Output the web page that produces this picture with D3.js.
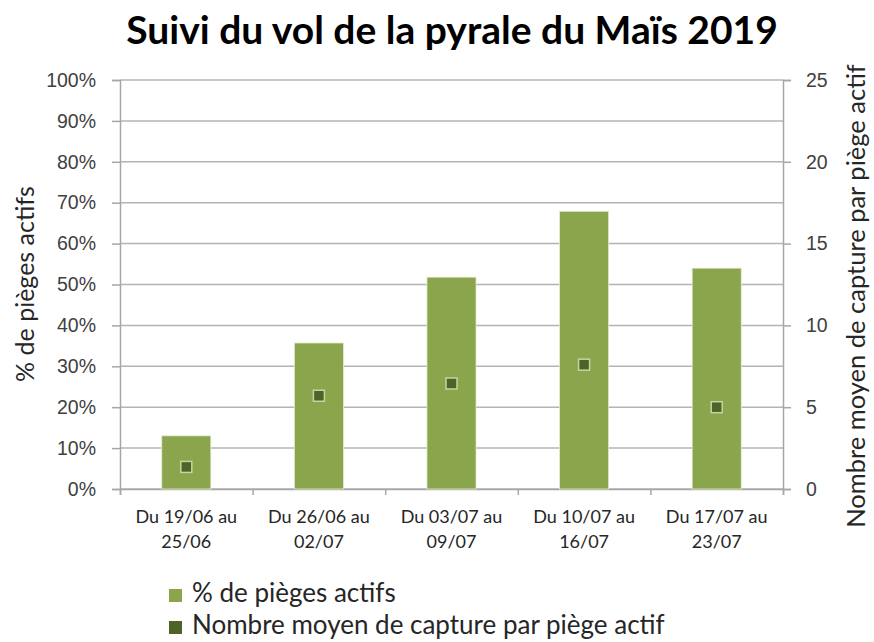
<!DOCTYPE html>
<html>
<head>
<meta charset="utf-8">
<script src="https://cdn.jsdelivr.net/npm/d3@7"></script>
<style>
  body { margin: 0; background: #fff; }
  svg { font-family: Lato, "Liberation Sans", sans-serif; }
</style>
</head>
<body>
<div id="wrapper"></div>
<script>
const categories = [
    ["Du 19/06 au", "25/06"],
    ["Du 26/06 au", "02/07"],
    ["Du 03/07 au", "09/07"],
    ["Du 10/07 au", "16/07"],
    ["Du 17/07 au", "23/07"]
];
const pctActive = [0.13, 0.357, 0.518, 0.679, 0.54];
const meanCatch = [1.35, 5.7, 6.45, 7.6, 5.0];
const leftTicks = [0, 0.1, 0.2, 0.3, 0.4, 0.5, 0.6, 0.7, 0.8, 0.9, 1];
const rightTicks = [0, 5, 10, 15, 20, 25];

function buildPlot() {
    var dimension = {
        width: 874,
        height: 642,
        margin: { top: 80, left: 120, bottom: 153, right: 91 }
    };
    dimension.boundedWidth = dimension.width - dimension.margin.left - dimension.margin.right;
    dimension.boundedHeight = dimension.height - dimension.margin.top - dimension.margin.bottom;

    const svg = d3.select("#wrapper").append("svg")
        .attr("width", dimension.width)
        .attr("height", dimension.height);

    const bounded = svg.append("g")
        .attr("transform", `translate(${dimension.margin.left},${dimension.margin.top})`);

    const xScaler = d3.scaleBand()
        .domain(d3.range(categories.length))
        .range([0, dimension.boundedWidth]);

    const yScaler = d3.scaleLinear()
        .domain([0, 1])
        .range([dimension.boundedHeight, 0]);

    const y2Scaler = d3.scaleLinear()
        .domain([0, 25])
        .range([dimension.boundedHeight, 0]);

    // grille
    bounded.append("g")
        .selectAll("line")
        .data(leftTicks)
        .join("line")
        .attr("x1", 0)
        .attr("x2", dimension.boundedWidth)
        .attr("y1", d => yScaler(d))
        .attr("y2", d => yScaler(d))
        .attr("stroke", "#b4b4b4")
        .attr("stroke-width", 1.5);

    // axes
    const yAxis = d3.axisLeft(yScaler)
        .tickValues(leftTicks)
        .tickFormat(d3.format(".0%"))
        .tickSize(8)
        .tickPadding(16);
    const gy = bounded.append("g").call(yAxis);

    const y2Axis = d3.axisRight(y2Scaler)
        .tickValues(rightTicks)
        .tickSize(8)
        .tickPadding(15);
    const gy2 = bounded.append("g")
        .attr("transform", `translate(${dimension.boundedWidth},0)`)
        .call(y2Axis);

    const xAxis = d3.axisBottom(d3.scaleLinear().domain([0, 5]).range([0, dimension.boundedWidth]))
        .tickValues(d3.range(6))
        .tickFormat("")
        .tickSize(6);
    const gx = bounded.append("g")
        .attr("transform", `translate(0,${dimension.boundedHeight})`)
        .call(xAxis);

    [gy, gy2, gx].forEach(g => {
        g.select(".domain").attr("stroke", "#a6a6a6").attr("stroke-width", 1.5);
        g.selectAll(".tick line").attr("stroke", "#a6a6a6").attr("stroke-width", 1.5);
        g.selectAll(".tick text")
            .attr("fill", "#404040")
            .style("font-size", "19.5px");
    });

    // barres
    const barW = xScaler.bandwidth() * 0.37;
    bounded.append("g")
        .selectAll("rect")
        .data(pctActive)
        .join("rect")
        .attr("x", (d, i) => xScaler(i) + xScaler.bandwidth() / 2 - barW / 2)
        .attr("y", d => yScaler(d))
        .attr("width", barW)
        .attr("height", d => dimension.boundedHeight - yScaler(d))
        .attr("fill", "#8aa54c")
        .attr("stroke", "#e3ecd2")
        .attr("stroke-width", 0.8);

    // marqueurs
    const m = 11;
    bounded.append("g")
        .selectAll("rect")
        .data(meanCatch)
        .join("rect")
        .attr("x", (d, i) => xScaler(i) + xScaler.bandwidth() / 2 - m / 2)
        .attr("y", d => y2Scaler(d) - m / 2)
        .attr("width", m)
        .attr("height", m)
        .attr("fill", "#4e6327")
        .attr("stroke", "#c4d6a0")
        .attr("stroke-width", 1.5);

    // étiquettes des catégories
    const labels = bounded.append("g")
        .selectAll("text")
        .data(categories)
        .join("text")
        .attr("text-anchor", "middle")
        .attr("fill", "#262626")
        .style("font-size", "18px")
        .attr("transform", (d, i) => `translate(${xScaler(i) + xScaler.bandwidth() / 2},${dimension.boundedHeight + 34})`);
    labels.selectAll("tspan")
        .data(d => d)
        .join("tspan")
        .attr("x", 0)
        .attr("dy", (d, j) => j === 0 ? 0 : 25)
        .text(d => d);

    // titre
    svg.append("text")
        .attr("x", 452)
        .attr("y", 44)
        .attr("text-anchor", "middle")
        .attr("fill", "#000")
        .style("font-weight", "bold")
        .style("font-size", "39px")
        .text("Suivi du vol de la pyrale du Maïs 2019");

    // titres des axes
    svg.append("text")
        .attr("text-anchor", "middle")
        .attr("transform", "translate(34,284)rotate(-90)")
        .attr("fill", "#262626")
        .style("font-size", "25px")
        .text("% de pièges actifs");

    svg.append("text")
        .attr("text-anchor", "middle")
        .attr("transform", "translate(865,296)rotate(-90)")
        .attr("fill", "#262626")
        .style("font-size", "25.5px")
        .text("Nombre moyen de capture par piège actif");

    // légende
    const legendItems = [
        { label: "% de pièges actifs", color: "#8aa54c" },
        { label: "Nombre moyen de capture par piège actif", color: "#4e6327" }
    ];
    const legend = svg.append("g")
        .selectAll("g")
        .data(legendItems)
        .join("g")
        .attr("transform", (d, i) => `translate(169,${589 + i * 32})`);
    legend.append("rect")
        .attr("width", 13)
        .attr("height", 13)
        .attr("fill", d => d.color);
    legend.append("text")
        .attr("x", 23)
        .attr("y", 13)
        .attr("fill", "#262626")
        .style("font-size", "26px")
        .text(d => d.label);
}

buildPlot();
</script>
</body>
</html>
